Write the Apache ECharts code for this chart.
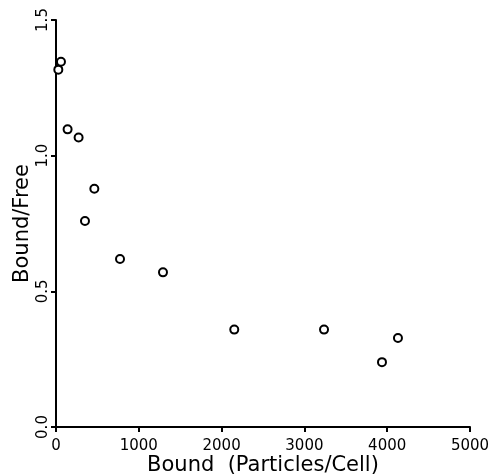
<!DOCTYPE html>
<html>
<head>
<meta charset="utf-8">
<script src="https://cdn.jsdelivr.net/npm/echarts@6/dist/echarts.min.js"></script>
<style>html,body{margin:0;padding:0;background:#fff}#c{width:495px;height:475px}</style>
</head>
<body>
<div id="c"></div>
<script>
const boundValues = [28, 60, 140, 273, 350, 463, 773, 1292, 2153, 3237, 3937, 4130];
const ratioValues = [1.317, 1.346, 1.097, 1.067, 0.759, 0.878, 0.619, 0.570, 0.359, 0.359, 0.239, 0.328];
const xTicks = [0, 1000, 2000, 3000, 4000, 5000];
const yTicks = [0.0, 0.5, 1.0, 1.5];
const xName = 'Bound  (Particles/Cell)';
const yName = 'Bound/Free';

const points = boundValues.map((b, i) => [b, ratioValues[i]]);
const font = 'DejaVu Sans';
const chart = echarts.init(document.getElementById('c'), null, {renderer: 'canvas'});
chart.setOption({
  animation: false,
  backgroundColor: '#fff',
  grid: {left: 56, right: 25, top: 20, bottom: 48, containLabel: false, outerBoundsMode: 'none'},
  xAxis: {
    type: 'value', min: xTicks[0], max: xTicks[xTicks.length - 1], interval: 1000,
    name: xName, nameLocation: 'middle', nameGap: 28, nameMoveOverlap: false,
    nameTextStyle: {fontFamily: font, fontSize: 21, color: '#000'},
    axisLine: {show: true, lineStyle: {color: '#000', width: 2}},
    axisTick: {show: true, inside: false, length: 5, lineStyle: {color: '#000', width: 2}},
    axisLabel: {fontFamily: font, fontSize: 15, color: '#000', margin: 12,
      formatter: v => String(Math.round(v))},
    splitLine: {show: false}
  },
  yAxis: {
    type: 'value', min: yTicks[0], max: yTicks[yTicks.length - 1], interval: 0.5,
    name: yName, nameLocation: 'middle', nameGap: 23, nameRotate: 90, nameMoveOverlap: false,
    nameTextStyle: {fontFamily: font, fontSize: 21, color: '#000'},
    axisLine: {show: true, lineStyle: {color: '#000', width: 2}},
    axisTick: {show: true, inside: false, length: 5, lineStyle: {color: '#000', width: 2}},
    axisLabel: {fontFamily: font, fontSize: 15, color: '#000', margin: 5, rotate: 90,
      formatter: v => v.toFixed(1)},
    splitLine: {show: false}
  },
  series: [{
    type: 'scatter',
    data: points,
    symbol: 'circle',
    symbolSize: 8,
    itemStyle: {color: '#fff', borderColor: '#000', borderWidth: 2, opacity: 1}
  }]
});
</script>
</body>
</html>
